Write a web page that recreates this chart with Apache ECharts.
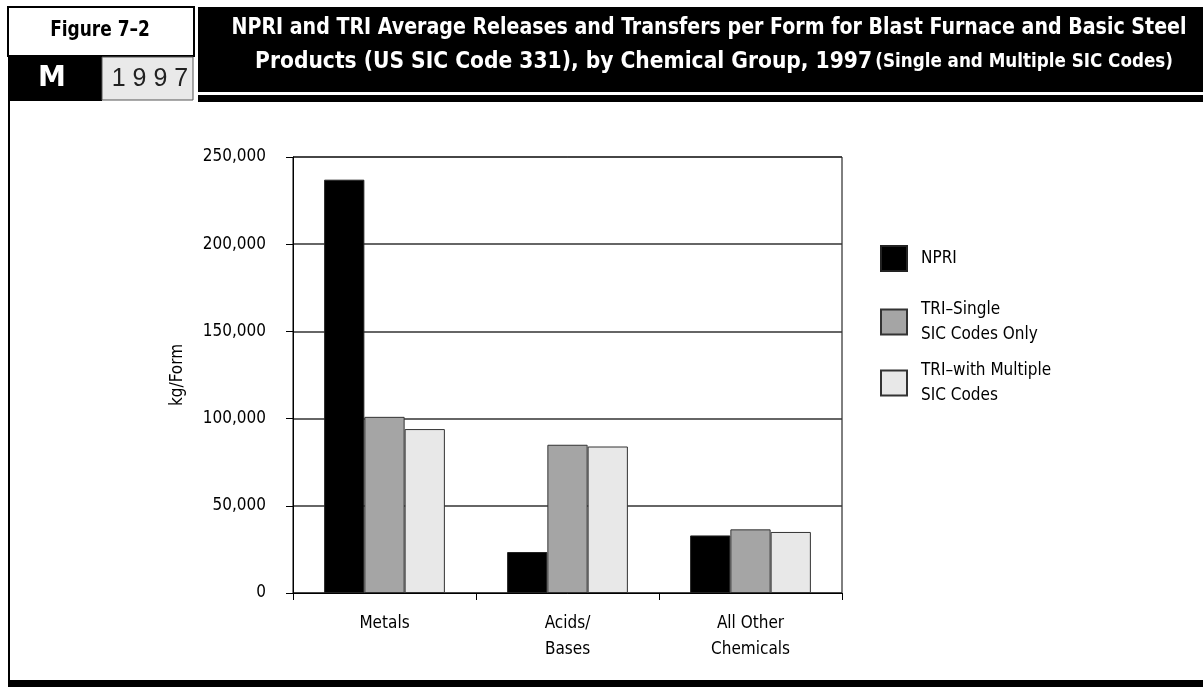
<!DOCTYPE html>
<html>
<head>
<meta charset="utf-8">
<script src="https://cdn.jsdelivr.net/npm/echarts@6/dist/echarts.min.js"></script>
<style>
  html, body { margin: 0; padding: 0; background: #fff; }
  #chart { width: 1203px; height: 687px; }
</style>
</head>
<body>
<div id="chart"></div>
<script>
// categories and values (kg per form)
const categories = ['Metals', 'Acids/\nBases', 'All Other\nChemicals'];
const npri = [237000, 23500, 33000];
const triSingle = [101000, 85000, 36500];
const triMultiple = [94000, 84000, 35000];
const seriesNames = ['NPRI', 'TRI\u2013Single\nSIC Codes Only', 'TRI\u2013with Multiple\nSIC Codes'];
const yTicks = [0, 50000, 100000, 150000, 200000, 250000];

const narrow = '"DejaVu Sans Condensed", "Liberation Sans Narrow", sans-serif';

let chartDom = document.getElementById('chart');
let myChart = echarts.init(chartDom);
let option;

// one legend block per entry so each sits where it does in the figure
function legendAt(name, top) {
  return {
    data: [name],
    orient: 'vertical',
    left: 880,
    top: top,
    padding: 0,
    icon: 'rect',
    itemWidth: 26,
    itemHeight: 25,
    selectedMode: false,
    textStyle: { fontFamily: narrow, fontSize: 17, lineHeight: 25, color: '#000', padding: [0, 0, 0, 9] }
  };
}

option = {
  animation: false,
  backgroundColor: '#fff',
  graphic: [
    // header: figure number box
    { type: 'rect', shape: { x: 8, y: 7, width: 186, height: 49 }, style: { fill: '#fff', stroke: '#000', lineWidth: 2 } },
    { type: 'text', x: 100, y: 31, scaleX: 0.9, style: { text: 'Figure 7\u20132', fill: '#000', font: 'bold 21px ' + narrow, align: 'center', verticalAlign: 'middle' } },
    { type: 'rect', shape: { x: 8, y: 56, width: 94, height: 45 }, style: { fill: '#000' } },
    { type: 'text', x: 52, y: 79, style: { text: 'M', fill: '#fff', font: 'bold 28px "DejaVu Sans", sans-serif', align: 'center', verticalAlign: 'middle' } },
    { type: 'rect', shape: { x: 102, y: 57, width: 91, height: 43 }, style: { fill: '#e9e9e9', stroke: '#555', lineWidth: 1 } },
    { type: 'text', x: 150, y: 79, style: { text: '1 9 9 7', fill: '#222', font: '25px "Liberation Sans", sans-serif', align: 'center', verticalAlign: 'middle' } },
    // header: title block
    { type: 'rect', shape: { x: 198, y: 7, width: 1005, height: 85 }, style: { fill: '#000' } },
    { type: 'rect', shape: { x: 198, y: 95, width: 1005, height: 7 }, style: { fill: '#000' } },
    { type: 'text', x: 709, y: 28, scaleX: 0.92, style: {
        text: 'NPRI and TRI Average Releases and Transfers per Form for Blast Furnace and Basic Steel',
        fill: '#fff', font: 'bold 23px ' + narrow, align: 'center', verticalAlign: 'middle' } },
    { type: 'text', x: 714, y: 62, scaleX: 0.98, style: {
        text: '{a|Products (US SIC Code 331), by Chemical Group, 1997} {b|(Single and Multiple SIC Codes)}',
        fill: '#fff', align: 'center', verticalAlign: 'middle',
        rich: {
          a: { fill: '#fff', font: 'bold 23px ' + narrow },
          b: { fill: '#fff', font: 'bold 19px ' + narrow }
        } } },
    // frame
    { type: 'rect', shape: { x: 8, y: 100, width: 2, height: 587 }, style: { fill: '#000' } },
    { type: 'rect', shape: { x: 8, y: 680, width: 1195, height: 7 }, style: { fill: '#000' } }
  ],
  legend: [
    legendAt(seriesNames[0], 245),
    legendAt(seriesNames[1], 297),
    legendAt(seriesNames[2], 358)
  ],
  grid: {
    left: 293, top: 157, width: 549, height: 436,
    show: true, borderColor: '#000', borderWidth: 1,
    outerBoundsMode: 'none'
  },
  xAxis: {
    type: 'category',
    data: categories,
    axisLine: { lineStyle: { color: '#000', width: 1 } },
    axisTick: { show: true, length: 7, lineStyle: { color: '#000' } },
    axisLabel: { fontFamily: narrow, fontSize: 17, lineHeight: 26, color: '#000', margin: 18 }
  },
  yAxis: {
    type: 'value',
    min: yTicks[0],
    max: yTicks[yTicks.length - 1],
    interval: 50000,
    name: 'kg/Form',
    nameLocation: 'middle',
    nameGap: 107,
    nameTextStyle: { fontFamily: narrow, fontSize: 17, color: '#000' },
    axisLine: { show: true, lineStyle: { color: '#000', width: 1 } },
    axisTick: { show: true, length: 7, lineStyle: { color: '#000' } },
    axisLabel: {
      fontFamily: narrow, fontSize: 17, color: '#000', margin: 27,
      formatter: v => v.toLocaleString('en-US')
    },
    splitLine: { lineStyle: { color: '#333', width: 1.5 } }
  },
  series: [
    { name: seriesNames[0], type: 'bar', data: npri, barGap: '0%', barCategoryGap: '34%',
      itemStyle: { color: '#000', borderColor: '#222', borderWidth: 1 } },
    { name: seriesNames[1], type: 'bar', data: triSingle,
      itemStyle: { color: '#a5a5a5', borderColor: '#333', borderWidth: 1 } },
    { name: seriesNames[2], type: 'bar', data: triMultiple,
      itemStyle: { color: '#e8e8e8', borderColor: '#333', borderWidth: 1 } }
  ]
};

option && myChart.setOption(option);
</script>
</body>
</html>
